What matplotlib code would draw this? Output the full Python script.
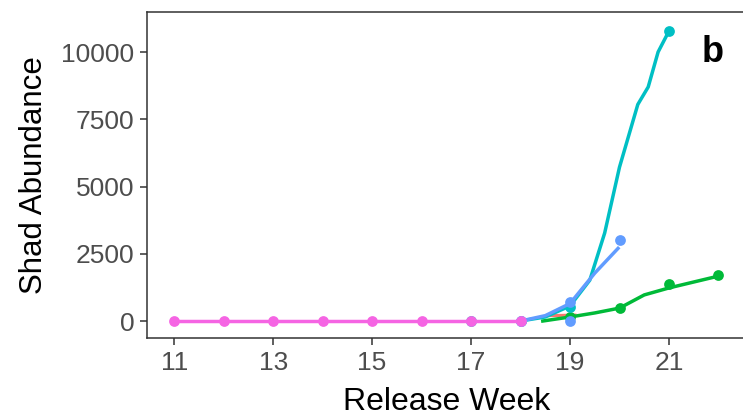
import matplotlib.pyplot as plt
import numpy as np

plt.rcParams['font.family'] = ['Liberation Sans', 'DejaVu Sans']

# observed releases per group (week, abundance)
pink_wk = [11, 12, 13, 14, 15, 16, 17, 18]
pink_ab = [0, 0, 0, 0, 0, 0, 0, 0]
cyan_wk = [17, 18, 19, 21]
cyan_ab = [0, 0, 520, 10780]
blue_wk = [18, 19, 19, 20]
blue_ab = [0, 0, 700, 3010]
green_wk = [19, 20, 21, 22]
green_ab = [150, 480, 1380, 1700]

# smoothed trend per group
cyan_fit_wk = [18, 18.5, 19, 19.4, 19.7, 20.0, 20.37, 20.58, 20.78, 21.0]
cyan_fit_ab = [0, 150, 560, 1520, 3270, 5720, 8050, 8700, 10000, 10780]
blue_fit_wk = [18, 18.5, 19, 19.5, 19.97]
blue_fit_ab = [0, 200, 650, 1780, 2700]
green_fit_wk = [18.45, 19, 19.5, 20, 20.5, 21, 21.5, 22]
green_fit_ab = [0, 150, 300, 480, 970, 1230, 1450, 1670]
red_fit_wk = [18.6, 19.1]
red_fit_ab = [200, 220]

c_pink = '#F564E3'
c_cyan = '#00BFC4'
c_blue = '#619CFF'
c_green = '#00BA38'
c_red = '#F8766D'

fig = plt.figure(figsize=(7.43, 4.2), dpi=100)
ax = fig.add_axes([0.1978, 0.1952, 0.8058, 0.7762])

ax.plot(red_fit_wk, red_fit_ab, color=c_red, lw=2.2, zorder=2)
ax.plot(green_fit_wk, green_fit_ab, color=c_green, lw=2.5, zorder=3)
ax.scatter(green_wk, green_ab, color=c_green, s=60, zorder=3, lw=0)
ax.plot(cyan_fit_wk, cyan_fit_ab, color=c_cyan, lw=2.5, zorder=4)
ax.scatter(cyan_wk, cyan_ab, color=c_cyan, s=60, zorder=4, lw=0)
ax.plot(blue_fit_wk, blue_fit_ab, color=c_blue, lw=2.5, zorder=5)
ax.scatter(blue_wk, blue_ab, color=c_blue, s=60, zorder=5, lw=0)
ax.plot(pink_wk, pink_ab, color=c_pink, lw=2.5, zorder=6)
ax.scatter(pink_wk, pink_ab, color=c_pink, s=60, zorder=6, lw=0)

ax.set_xlim(10.45, 22.55)
ax.set_ylim(-632, 11487)
ax.set_xticks([11, 13, 15, 17, 19, 21])
ax.set_yticks([0, 2500, 5000, 7500, 10000])
ax.tick_params(length=5, width=1.1, color='#333333', labelsize=19,
               labelcolor='#4D4D4D', pad=4)
for s in ax.spines.values():
    s.set_color('#333333')
    s.set_linewidth(1.1)

ax.set_xlabel('Release Week', fontsize=23, labelpad=9)
ax.set_ylabel('Shad Abundance', fontsize=22.5, labelpad=9)
ax.text(0.944, 0.877, 'b', transform=ax.transAxes, fontsize=26,
        fontweight='bold', ha='center', va='center')

fig.savefig('out.png', dpi=100)
